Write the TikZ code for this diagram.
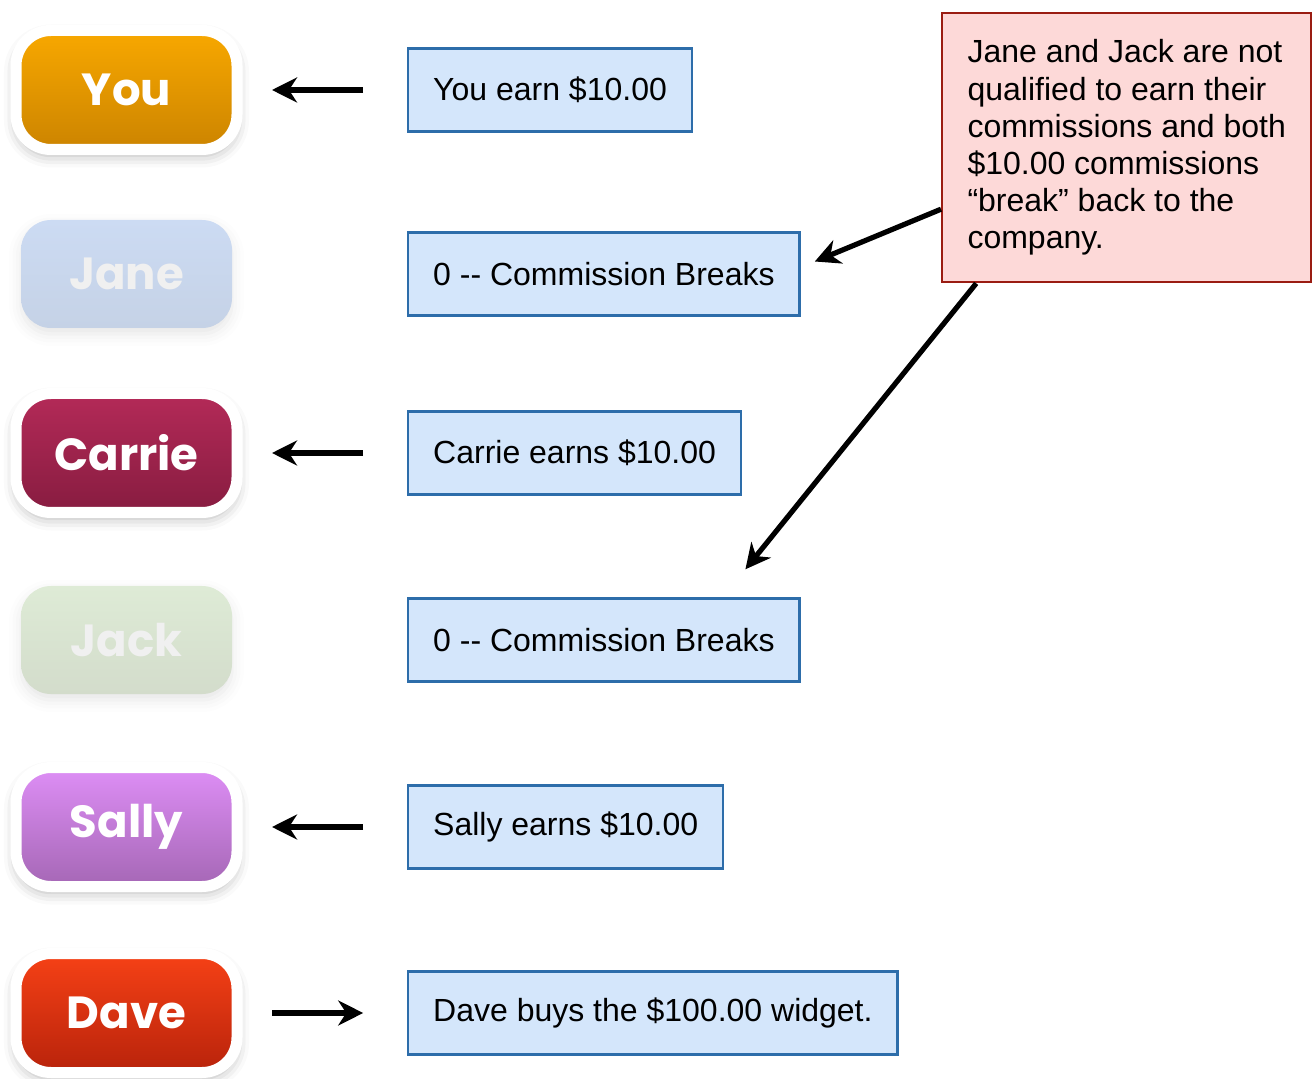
\documentclass[tikz,border=0pt]{standalone}
\usepackage{fontspec}
\setmainfont{Liberation Sans}
\newfontfamily\btnfont{Poppins}
\usetikzlibrary{arrows.meta}
\usetikzlibrary{shadows.blur}

\definecolor{boxfill}{HTML}{D4E6FB}
\definecolor{boxline}{HTML}{2D6DAA}
\definecolor{notefill}{HTML}{FDD9D8}
\definecolor{noteline}{HTML}{9A1C12}
\definecolor{youtop}{HTML}{F8A800}
\definecolor{youbot}{HTML}{CC8400}
\definecolor{janetop}{HTML}{CCDBF3}
\definecolor{janebot}{HTML}{C5D2E6}
\definecolor{carrietop}{HTML}{B42A58}
\definecolor{carriebot}{HTML}{871C40}
\definecolor{jacktop}{HTML}{DEEBD6}
\definecolor{jackbot}{HTML}{D3DCCB}
\definecolor{sallytop}{HTML}{DE8EF6}
\definecolor{sallybot}{HTML}{A567B5}
\definecolor{davetop}{HTML}{F64116}
\definecolor{davebot}{HTML}{B8230B}

\tikzset{
  btnbase/.style={text=white, font=\btnfont\bfseries\fontsize{22.5}{22.5}\selectfont},
  button/.style={btnbase, draw=white, line width=5.5pt, rounded corners=17.5pt,
    minimum width=110.5pt, minimum height=59.5pt,
    blur shadow={shadow xshift=0pt, shadow yshift=-3pt, shadow blur radius=6pt, shadow opacity=30}},
  faded/.style={btnbase, text=white!94!black, rounded corners=15pt,
    minimum width=105.5pt, minimum height=54pt,
    blur shadow={shadow xshift=0pt, shadow yshift=-3pt, shadow blur radius=6pt, shadow opacity=10}},
  amount/.style={draw=boxline, fill=boxfill, line width=1.2pt, anchor=west,
    minimum height=41.5pt, inner xsep=12.5pt, font=\fontsize{16}{18.6}\selectfont},
  note/.style={draw=noteline, fill=notefill, line width=1.2pt, anchor=north west,
    minimum width=184.5pt, minimum height=134.5pt, align=left,
    font=\fontsize{16}{18.6}\selectfont},
  arr/.style={-{Stealth[length=12.5pt, width=12.5pt, inset=4pt]}, line width=2.6pt},
}

\begin{document}
\begin{tikzpicture}[x=0.5pt, y=-0.5pt]
    \useasboundingbox (0,0) rectangle (1312,1079);

    % place nodes
    \node[button, top color=youtop, bottom color=youbot]       at (126.5, 90)   (you)    {You};
    \node[faded,  top color=janetop, bottom color=janebot]     at (126.5, 274)  (jane)   {Jane};
    \node[button, top color=carrietop, bottom color=carriebot] at (126.5, 453)  (carrie) {Carrie};
    \node[faded,  top color=jacktop, bottom color=jackbot]     at (126.5, 640)  (jack)   {Jack};
    \node[button, top color=sallytop, bottom color=sallybot]   at (126.5, 827)  (sally)  {Sally};
    \node[button, top color=davetop, bottom color=davebot]     at (126.5, 1013) (dave)   {Dave};

    \node[amount] at (407, 90)   (b1) {You earn \$10.00};
    \node[amount] at (407, 274)  (b2) {0 -{}- Commission Breaks};
    \node[amount] at (407, 453)  (b3) {Carrie earns \$10.00};
    \node[amount] at (407, 640)  (b4) {0 -{}- Commission Breaks};
    \node[amount] at (407, 827)  (b5) {Sally earns \$10.00};
    \node[amount] at (407, 1013) (b6) {Dave buys the \$100.00 widget.};

    \node[note] at (941, 12) (note) {Jane and Jack are not\\qualified to earn their\\commissions and both\\\$10.00 commissions\\“break” back to the\\company.};

    % draw edges
    \draw[arr, shorten <=21.9pt, shorten >=14.75pt] (b1) -- (you);
    \draw[arr, shorten <=21.9pt, shorten >=14.75pt] (b3) -- (carrie);
    \draw[arr, shorten <=21.9pt, shorten >=14.75pt] (b5) -- (sally);
    \draw[arr, shorten <=14.75pt, shorten >=21.9pt] (dave) -- (b6);

    \draw[arr] ([yshift=-30.75pt]note.west) -- ([xshift=7pt, yshift=6.25pt]b2.east);
    \draw[arr] ([xshift=-75.25pt]note.south) -- ([xshift=70.75pt, yshift=14pt]b4.north);
\end{tikzpicture}
\end{document}
